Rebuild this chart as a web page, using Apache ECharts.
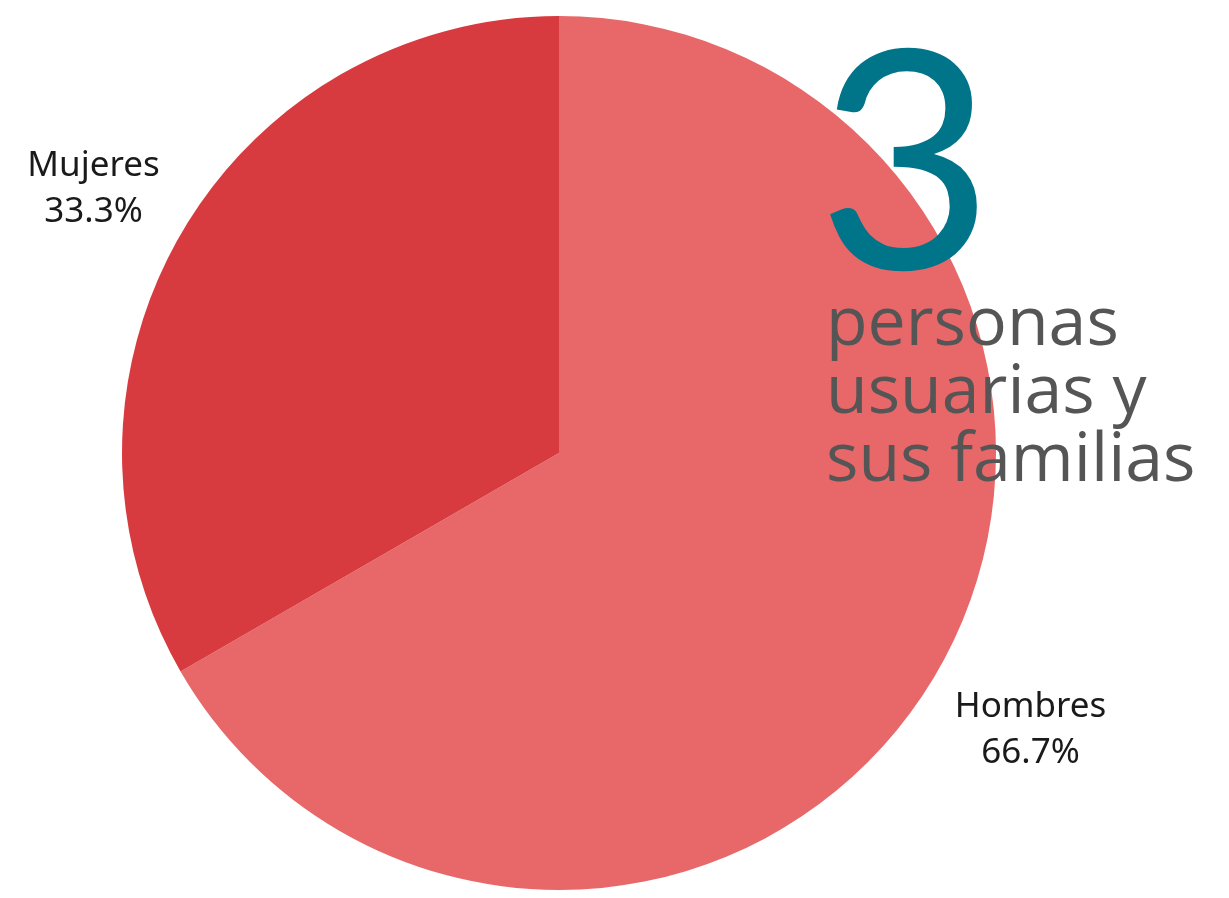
<!DOCTYPE html>
<html>
<head>
<meta charset="utf-8">
<script src="https://cdn.jsdelivr.net/npm/echarts@6/dist/echarts.min.js"></script>
<style>html,body{margin:0;padding:0;background:#fff}#c{width:1229px;height:898px}</style>
</head>
<body>
<div id="c"></div>
<script>
const categories = ['Hombres', 'Mujeres'];
const values = [2, 1];
const colors = ['#E86769', '#D83B3F'];
const subtitleLines = ['personas', 'usuarias y', 'sus familias'];

const total = values.reduce((a, b) => a + b, 0);
const data = categories.map((name, i) => ({ name, value: values[i], itemStyle: { color: colors[i] } }));
const labelData = categories.map((name, i) => ({ name, value: values[i] }));

const chart = echarts.init(document.getElementById('c'));
chart.setOption({
  backgroundColor: '#ffffff',
  animation: false,
  series: [
    {
      type: 'pie',
      center: [559, 453],
      radius: [0, 437],
      startAngle: 90,
      clockwise: true,
      silent: true,
      label: { show: false },
      labelLine: { show: false },
      itemStyle: { borderWidth: 0 },
      data: data
    },
    {
      type: 'pie',
      center: [559, 453],
      radius: [500, 576],
      startAngle: 90,
      clockwise: true,
      silent: true,
      percentPrecision: 1,
      avoidLabelOverlap: false,
      itemStyle: { color: 'rgba(0,0,0,0)', borderWidth: 0 },
      label: {
        show: true,
        position: 'inside',
        formatter: '{b}\n{d}%',
        fontFamily: 'Noto Sans',
        fontSize: 35,
        lineHeight: 46,
        color: '#1a1a1a',
        align: 'center',
        offset: [3, 7]
      },
      labelLine: { show: false },
      data: labelData
    }
  ],
  graphic: [
    {
      type: 'text',
      z: 100,
      left: 817,
      top: 18,
      style: {
        text: String(total),
        fontFamily: 'Lato',
        fontSize: 305,
        fill: '#00758A',
        verticalAlign: 'middle'
      }
    },
    {
      type: 'text',
      z: 100,
      left: 826,
      top: 292,
      style: {
        text: subtitleLines.join('\n'),
        fontFamily: 'Open Sans',
        fontSize: 68,
        lineHeight: 68,
        fill: '#555555'
      }
    }
  ]
});
</script>
</body>
</html>
